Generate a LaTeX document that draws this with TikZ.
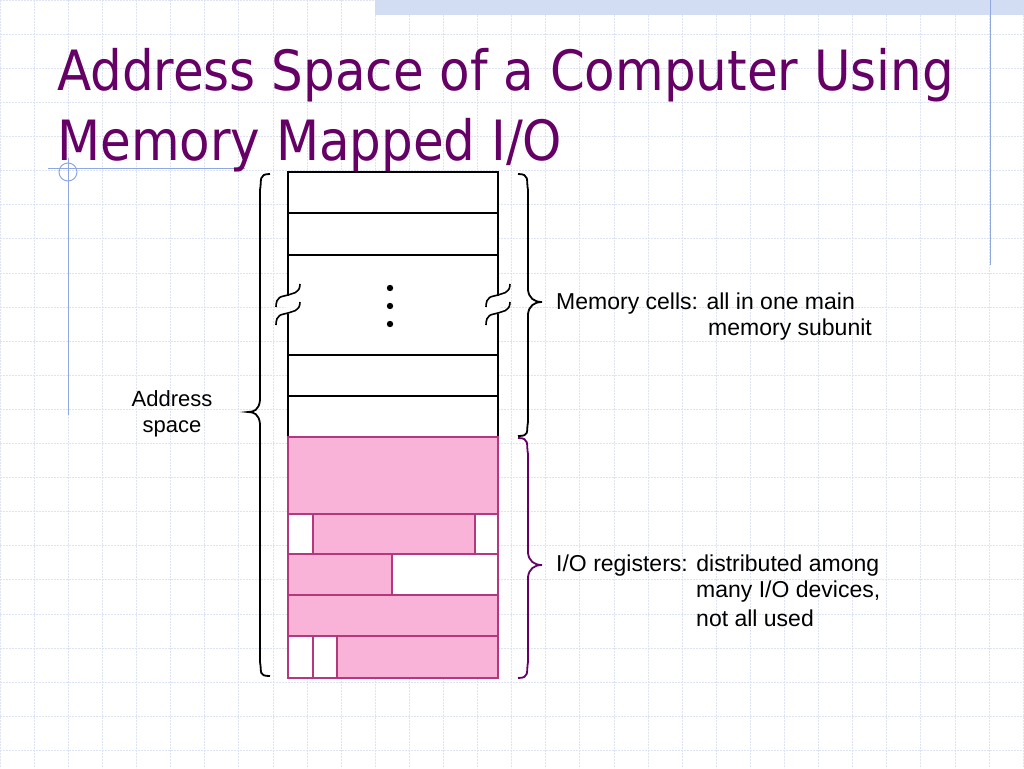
\documentclass[tikz,border=0pt]{standalone}
\usepackage{fontspec}
\setmainfont{Liberation Sans}
\newfontfamily\titlefont{DejaVu Sans Condensed}
\begin{document}
\begin{tikzpicture}[x=1pt,y=-1pt,
  cell/.style={draw=black,line width=1.6pt,fill=white},
  pcell/.style={draw=magenta!70!black,line width=1.4pt,fill=pinkfill},
  lbl/.style={anchor=west,inner sep=0pt,font=\fontsize{23}{26}\selectfont}]
\definecolor{pinkfill}{HTML}{F9B3D9}
\definecolor{ttl}{HTML}{660066}
\definecolor{grid}{HTML}{DDE3F3}
\definecolor{deco}{HTML}{8FA8E0}
\useasboundingbox (0,0) rectangle (1024,768);
\fill[white] (0,0) rectangle (1024,768);
\foreach \i in {0,...,30}{
 \draw[grid,line width=0.6pt,dash pattern=on 2pt off 1pt] (\i*34.1,0) -- (\i*34.1,768);
 \draw[grid,line width=0.6pt,dash pattern=on 2pt off 1pt] (0,\i*34.1) -- (1024,\i*34.1);
}
\fill[deco!40] (375,0) rectangle (1024,15);
\draw[deco,line width=1pt] (990,0) -- (990,265);
\draw[deco,line width=1pt] (48,168) -- (245,168) (68,158) -- (68,415);
\draw[deco,line width=1pt] (68,172) circle (9);
% title
\node[anchor=base west,inner sep=0pt,text=ttl,font=\titlefont\fontsize{55.5}{60}\selectfont] (t1) at (57,90) {Address Space of a Computer Using};
\node[anchor=base west,inner sep=0pt,text=ttl,font=\titlefont\fontsize{55.5}{60}\selectfont] (t2) at (57,160) {Memory Mapped I/O};
% memory cells
\draw[cell] (288,172) rectangle (498,213);
\draw[cell] (288,213) rectangle (498,255);
\draw[cell] (288,255) rectangle (498,355);
\draw[cell] (288,355) rectangle (498,396);
\draw[cell] (288,396) rectangle (498,437);
\foreach \y in {288,306,324} \fill (390,\y) circle (3.2);
% break marks
\foreach \x in {288,498}{
 \fill[white] (\x-2,296) rectangle (\x+2,314);
 \draw[line width=1.6pt] (\x+12,284) .. controls (\x+12,294) and (\x+4,293) .. (\x,295) -- (\x-4,296) .. controls (\x-12,297) and (\x-12,304) .. (\x-12,307);
 \draw[line width=1.6pt] (\x+12,302) .. controls (\x+12,312) and (\x+4,311) .. (\x,313) -- (\x-4,314) .. controls (\x-12,315) and (\x-12,322) .. (\x-12,325);
}
% I/O registers
\draw[pcell] (288,437) rectangle (498,514);
\draw[pcell,fill=white] (288,514) rectangle (313,554);
\draw[pcell] (313,514) rectangle (475,554);
\draw[pcell,fill=white] (475,514) rectangle (498,554);
\draw[pcell] (288,554) rectangle (392,595);
\draw[pcell,fill=white] (392,554) rectangle (498,595);
\draw[pcell] (288,595) rectangle (498,636);
\draw[pcell,fill=white] (288,636) rectangle (313,678);
\draw[pcell,fill=white] (313,636) rectangle (337,678);
\draw[pcell] (337,636) rectangle (498,678);
% braces
\draw[line width=1.8pt] (270,174) .. controls (258,174) and (262,180) .. (260,190) -- (260,400) .. controls (259,410) and (254,412) .. (248,412) .. controls (254,412) and (259,414) .. (260,424) -- (260,662) .. controls (262,672) and (258,676) .. (270,676);
\node[align=center,inner sep=0pt,font=\fontsize{22}{26}\selectfont] (as) at (172,414) {Address\\space};
\draw[line width=1.8pt] (518,174) .. controls (530,174) and (526,180) .. (528,190) -- (528,290) .. controls (529,298) and (534,302) .. (542,302) .. controls (534,302) and (529,306) .. (528,314) -- (528,422) .. controls (526,432) and (530,436) .. (518,436);
\draw[line width=1.8pt,ttl] (518,438) .. controls (530,438) and (526,444) .. (528,454) -- (528,553) .. controls (529,561) and (534,565) .. (542,565) .. controls (534,565) and (529,569) .. (528,577) -- (528,662) .. controls (526,672) and (530,678) .. (518,678);
\node[lbl] (m1) at (556,304) {Memory cells: all in one main};
\node[lbl] (m2) at (708,330) {memory subunit};
\node[lbl] (i1) at (556,566) {I/O registers: distributed among};
\node[lbl] (i2) at (696,592) {many I/O devices,};
\node[lbl] (i3) at (696,618) {not all used};
\end{tikzpicture}
\end{document}
